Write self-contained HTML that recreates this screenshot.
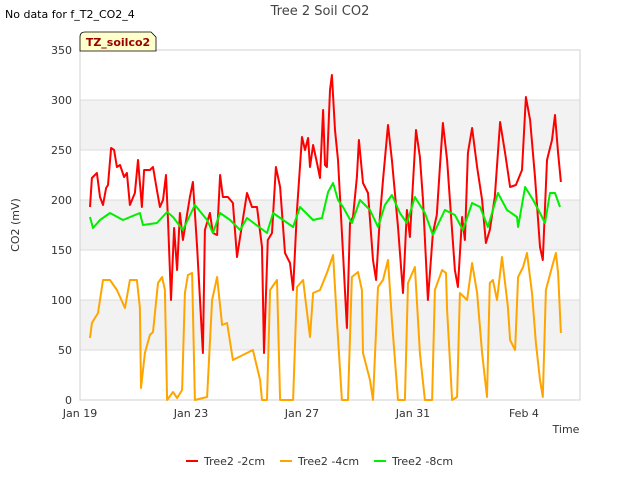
<!DOCTYPE html>
<html><head><meta charset="utf-8"><style>
body{margin:0;background:#fff;font-family:"Liberation Sans","DejaVu Sans",sans-serif}
svg text{font-family:"DejaVu Sans","Liberation Sans",sans-serif}
</style></head><body>
<svg id="c" width="640" height="480" xmlns="http://www.w3.org/2000/svg">
<rect width="640" height="480" fill="#fff"/>
<text x="5" y="18" font-size="11" fill="#000">No data for f_T2_CO2_4</text>
<text x="320" y="15" font-size="13" fill="#444" text-anchor="middle">Tree 2 Soil CO2</text>
<g id="plot"></g>
<path d="M80,50 L80,37 Q80,32 85,32 L151,32 L156,37 L156,51 L80,51 Z" fill="#ffffcc" stroke="#000" stroke-width="0.8"/>
<text x="118" y="46" font-size="11" font-weight="bold" fill="#990000" text-anchor="middle">TZ_soilco2</text>
<text transform="translate(19,225) rotate(-90)" font-size="11" fill="#333" text-anchor="middle">CO2 (mV)</text>
<text x="566" y="433" font-size="11" fill="#333" text-anchor="middle">Time</text>
<g>
<line x1="186" y1="461" x2="198" y2="461" stroke="#ff0000" stroke-width="2"/>
<text x="204" y="465" font-size="11" fill="#333">Tree2 -2cm</text>
<line x1="280" y1="461" x2="292" y2="461" stroke="#ffa500" stroke-width="2"/>
<text x="298" y="465" font-size="11" fill="#333">Tree2 -4cm</text>
<line x1="374" y1="461" x2="386" y2="461" stroke="#00ee00" stroke-width="2"/>
<text x="392" y="465" font-size="11" fill="#333">Tree2 -8cm</text>
</g>
</svg>
<script>
const xTickLabels=["Jan 19","Jan 23","Jan 27","Jan 31","Feb 4"];
const xTickDays=[0,4,8,12,16];
const yTicks=[0,50,100,150,200,250,300,350];
const redDays=[.36,.43,.61,.72,.83,.94,1.01,1.12,1.23,1.33,1.44,1.59,1.69,1.80,1.98,2.09,2.23,2.31,2.52,2.63,2.77,2.88,2.99,3.10,3.17,3.28,3.39,3.50,3.60,3.71,3.96,4.07,4.22,4.43,4.50,4.68,4.79,4.94,5.05,5.15,5.33,5.51,5.66,5.77,6.02,6.20,6.38,6.56,6.63,6.77,6.92,7.06,7.21,7.39,7.57,7.68,7.82,8.00,8.11,8.22,8.29,8.40,8.54,8.65,8.76,8.83,8.90,9.01,9.08,9.19,9.30,9.48,9.62,9.73,9.84,9.98,10.05,10.20,10.38,10.56,10.67,10.81,10.92,11.10,11.24,11.46,11.64,11.78,11.89,12.11,12.25,12.36,12.54,12.72,12.86,12.97,13.08,13.23,13.33,13.51,13.62,13.77,13.87,13.98,14.13,14.31,14.49,14.63,14.77,14.95,15.14,15.32,15.50,15.71,15.93,16.07,16.22,16.40,16.58,16.68,16.83,17.01,17.12,17.23,17.33];
const redVals=[193,222,227,203,195,212,215,252,250,233,235,223,227,195,207,240,193,230,230,233,210,193,200,225,180,100,172,130,187,160,203,218,153,47,170,187,167,165,225,203,203,197,143,163,207,193,193,153,47,160,167,233,213,147,137,110,190,263,250,262,233,255,237,222,290,235,233,310,325,270,240,147,72,177,183,223,260,217,207,140,120,183,220,275,240,173,107,190,163,270,243,200,100,167,185,233,277,240,200,130,113,183,160,247,272,233,200,157,170,203,278,247,213,215,230,303,280,223,153,140,240,260,285,247,218];
const orangeDays=[.36,.43,.65,.83,1.08,1.33,1.62,1.80,2.05,2.16,2.20,2.34,2.52,2.63,2.81,2.96,3.06,3.14,3.35,3.50,3.68,3.78,3.89,4.04,4.14,4.58,4.76,4.94,5.12,5.30,5.51,6.23,6.49,6.56,6.74,6.85,7.10,7.21,7.68,7.82,8.04,8.29,8.40,8.65,8.90,9.12,9.26,9.44,9.66,9.80,10.02,10.16,10.20,10.45,10.56,10.74,10.92,11.10,11.24,11.46,11.71,11.82,12.07,12.25,12.43,12.69,12.79,13.05,13.19,13.23,13.41,13.59,13.69,13.95,14.13,14.31,14.49,14.67,14.77,14.88,15.03,15.21,15.42,15.50,15.68,15.79,15.97,16.11,16.29,16.43,16.58,16.68,16.79,17.01,17.15,17.23,17.33];
const orangeVals=[62,77,87,120,120,110,92,120,120,92,12,47,65,68,117,123,110,0,8,2,10,107,125,127,0,3,100,123,75,77,40,50,20,0,0,110,120,0,0,113,120,63,107,110,127,145,80,0,0,123,128,110,47,20,0,113,120,140,80,0,0,117,133,47,0,0,110,130,127,90,0,3,107,100,137,107,47,3,117,120,100,143,93,60,50,123,133,147,107,57,20,3,110,133,147,127,67];
const greenDays=[.36,.47,.72,1.08,1.55,2.16,2.27,2.77,3.14,3.35,3.71,4.14,4.58,4.79,5.05,5.41,5.77,6.02,6.74,6.96,7.68,7.93,8.40,8.72,8.94,9.12,9.30,9.48,9.80,10.09,10.45,10.74,10.99,11.24,11.53,11.78,12.07,12.43,12.72,13.15,13.51,13.80,14.13,14.42,14.70,15.06,15.39,15.75,15.79,16.04,16.33,16.58,16.76,16.94,17.12,17.30];
const greenVals=[183,172,180,187,180,187,175,177,188,183,170,195,180,167,187,180,170,182,167,187,173,193,180,182,208,217,200,193,177,200,190,173,195,205,187,177,203,187,165,190,185,170,197,193,173,207,190,183,173,213,200,187,177,207,207,193];
const L=80,R=580,T=50,B=400,dayMax=18.02,vMax=350;
const xs=d=>L+(R-L)*d/dayMax, ys=v=>B-(B-T)*v/vMax;
const NS="http://www.w3.org/2000/svg", g=document.getElementById('plot');
function mk(t,a){const e=document.createElementNS(NS,t);for(const k in a)e.setAttribute(k,a[k]);g.appendChild(e);return e;}
for(let i=0;i<yTicks.length-1;i++){if(i%2===1){const r=mk('rect',{x:L,y:ys(yTicks[i+1]),width:R-L,height:ys(yTicks[i])-ys(yTicks[i+1]),fill:'#f2f2f2'});

}}
yTicks.forEach(v=>{const l=mk('line',{x1:L,x2:R,y1:ys(v),y2:ys(v),stroke:'#dcdcdc','stroke-width':1});


const t=mk('text',{x:L-8,y:ys(v)+4,'font-size':11,fill:'#333','text-anchor':'end'});t.textContent=v;

});
const fr=mk('rect',{x:L,y:T,width:R-L,height:B-T,fill:'none',stroke:'#d0d0d0'});


xTickDays.forEach((d,i)=>{const t=mk('text',{x:xs(d),y:B+17,'font-size':11,fill:'#333','text-anchor':'middle'});t.textContent=xTickLabels[i];

});
function series(days,vals,col,name){const p=mk('polyline',{points:days.map((d,i)=>xs(d).toFixed(1)+','+ys(vals[i]).toFixed(1)).join(' '),fill:'none',stroke:col,'stroke-width':2,'stroke-linejoin':'round'});

}
series(orangeDays,orangeVals,'#ffa500','series-tree2-4cm');
series(redDays,redVals,'#ff0000','series-tree2-2cm');
series(greenDays,greenVals,'#00ee00','series-tree2-8cm');
</script>
</body></html>
